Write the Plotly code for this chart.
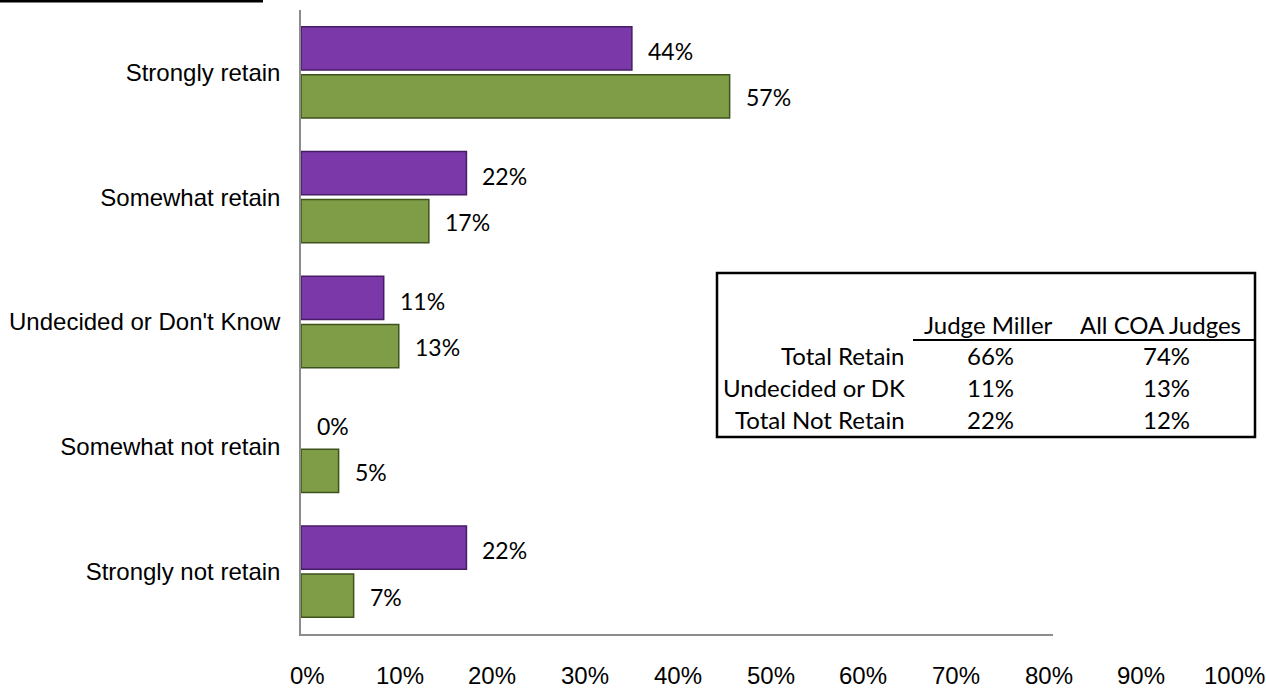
import plotly.graph_objects as go

categories = ["Strongly retain", "Somewhat retain", "Undecided or Don't Know",
              "Somewhat not retain", "Strongly not retain"]
judge_miller = [44, 22, 11, 0, 22]
all_coa = [57, 17, 13, 5, 7]

table_cols = ["Judge Miller", "All COA Judges"]
table_rows = ["Total Retain", "Undecided or DK", "Total Not Retain"]
table_miller = ["66%", "11%", "22%"]
table_coa = ["74%", "13%", "12%"]

tick_labels = ["0%", "10%", "20%", "30%", "40%", "50%", "60%", "70%", "80%", "90%", "100%"]

W, H = 1266, 690
L, R, T, B = 301, 1053, 10, 634


def px(x):
    return (x - L) / (R - L)


def py(y):
    return (B - y) / (B - T)


PURPLE = "rgb(122,56,168)"
PURPLE_EDGE = "rgb(70,28,100)"
GREEN = "rgb(127,157,70)"
GREEN_EDGE = "rgb(62,82,30)"


def edge_widths(vals):
    return [0 if v == 0 else 1.5 for v in vals]


fig = go.Figure()
fig.add_trace(go.Bar(
    y=categories, x=judge_miller, orientation="h", name="Judge Miller",
    marker=dict(color=PURPLE, line=dict(color=PURPLE_EDGE, width=edge_widths(judge_miller))),
))
fig.add_trace(go.Bar(
    y=categories, x=all_coa, orientation="h", name="All COA Judges",
    marker=dict(color=GREEN, line=dict(color=GREEN_EDGE, width=edge_widths(all_coa))),
))

annotations = []
label_font = dict(family="Lato, Open Sans, sans-serif", size=23, color="black")
for i, cat in enumerate(categories):
    for vals, off in ((judge_miller, -0.17), (all_coa, 0.2)):
        annotations.append(dict(
            x=vals[i], y=i + off, xref="x", yref="y", text=f"{vals[i]}%",
            showarrow=False, xanchor="left", yanchor="middle", xshift=14,
            font=label_font,
        ))

# bottom percentage scale
for k, t in enumerate(tick_labels):
    annotations.append(dict(
        x=px(307 + k * 92.7), y=py(675), xref="paper", yref="paper", text=t,
        showarrow=False, xanchor="center", yanchor="middle",
        font=dict(family="Liberation Sans, Arial, sans-serif", size=24, color="black"),
    ))

# summary table
tfont = dict(family="Lato, Open Sans, sans-serif", size=24, color="black")
col_head_x = [988, 1160]
col_val_x = [990, 1166]
for cx, txt in zip(col_head_x, table_cols):
    annotations.append(dict(x=px(cx), y=py(324), xref="paper", yref="paper",
                            text=txt, showarrow=False, xanchor="center",
                            yanchor="middle", font=tfont))
for j, (lab, m, c) in enumerate(zip(table_rows, table_miller, table_coa)):
    yy = py(355 + j * 32)
    annotations.append(dict(x=px(907), y=yy, xref="paper", yref="paper", text=lab,
                            showarrow=False, xanchor="right", yanchor="middle", font=tfont))
    annotations.append(dict(x=px(col_val_x[0]), y=yy, xref="paper", yref="paper", text=m,
                            showarrow=False, xanchor="center", yanchor="middle", font=tfont))
    annotations.append(dict(x=px(col_val_x[1]), y=yy, xref="paper", yref="paper", text=c,
                            showarrow=False, xanchor="center", yanchor="middle", font=tfont))

shapes = [
    dict(type="rect", xref="paper", yref="paper", x0=px(717), x1=px(1255),
         y0=py(437), y1=py(273), line=dict(color="black", width=2.5), fillcolor="white",
         layer="below"),
    dict(type="line", xref="paper", yref="paper", x0=px(913), x1=px(1255),
         y0=py(340), y1=py(340), line=dict(color="black", width=2)),
    dict(type="line", xref="paper", yref="paper", x0=px(0), x1=px(263),
         y0=py(1), y1=py(1), line=dict(color="black", width=3)),
]

fig.update_layout(
    width=W, height=H,
    margin=dict(l=L, r=W - R, t=T, b=H - B, pad=0),
    paper_bgcolor="white", plot_bgcolor="white",
    barmode="group", bargap=0.23, bargroupgap=0.1,
    showlegend=False,
    annotations=annotations, shapes=shapes,
    xaxis=dict(range=[0, 100], showgrid=False, zeroline=False, showticklabels=False,
               ticks="", showline=True, linecolor="#8c8c8c", linewidth=1.5, fixedrange=True),
    yaxis=dict(autorange="reversed", showgrid=False, zeroline=False, ticks="",
               showline=True, linecolor="#8c8c8c", linewidth=1.5,
               ticklabelstandoff=14,
               tickfont=dict(family="Liberation Sans, Arial, sans-serif", size=24, color="black")),
)

fig.write_html("out.html")
